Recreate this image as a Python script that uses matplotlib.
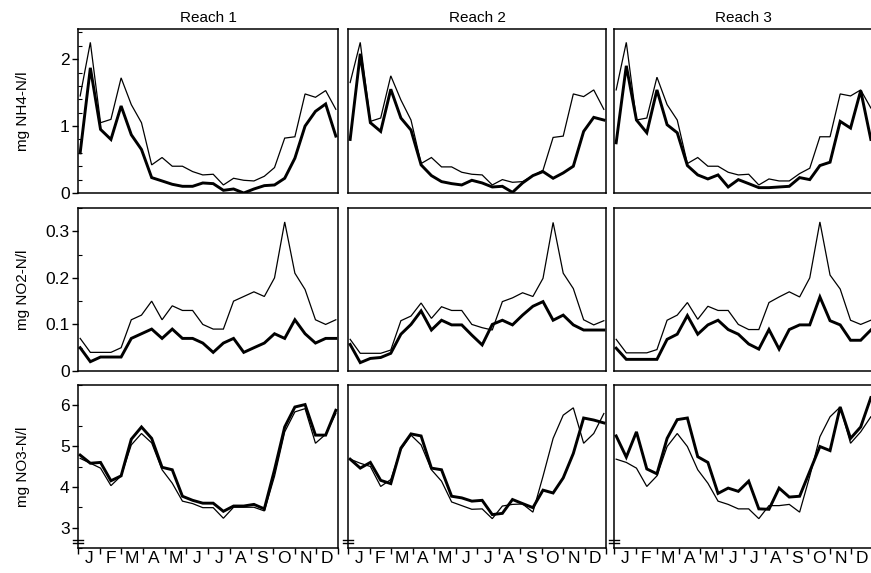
import numpy as np
import matplotlib
matplotlib.use("Agg")
import matplotlib.pyplot as plt
from matplotlib.ticker import MultipleLocator, FixedLocator, NullFormatter
import matplotlib.transforms as mtransforms

plt.rcParams['font.family'] = ['Liberation Sans', 'DejaVu Sans']

# sampling times (months since 1 Jan), biweekly
sample_month = [0.10, 0.57, 1.04, 1.52, 1.99, 2.46, 2.93, 3.40, 3.88, 4.35,
                4.82, 5.29, 5.76, 6.24, 6.71, 7.18, 7.65, 8.12, 8.60, 9.07,
                9.54, 10.01, 10.48, 10.96, 11.43, 11.90]

month_labels = ['J', 'F', 'M', 'A', 'M', 'J', 'J', 'A', 'S', 'O', 'N', 'D']
reach_titles = ['Reach 1', 'Reach 2', 'Reach 3']
row_labels = ['mg NH4-N/l', 'mg NO2-N/l', 'mg NO3-N/l']

# NH4 ---------------------------------------------------------------
nh4_thin_r1 = [1.45, 2.25, 1.05, 1.10, 1.72, 1.32, 1.05, 0.42, 0.53, 0.40, 0.40, 0.32, 0.27,
               0.28, 0.12, 0.22, 0.19, 0.18, 0.25, 0.38, 0.82, 0.84, 1.48, 1.43, 1.53, 1.25]
nh4_thick_r1 = [0.60, 1.87, 0.95, 0.80, 1.30, 0.87, 0.65, 0.23, 0.18, 0.13, 0.10, 0.10, 0.15,
                0.14, 0.04, 0.06, 0.00, 0.06, 0.11, 0.12, 0.22, 0.52, 1.00, 1.22, 1.33, 0.85]
nh4_thin_r2 = [1.65, 2.25, 1.07, 1.12, 1.75, 1.39, 1.09, 0.44, 0.53, 0.39, 0.39, 0.31, 0.28,
               0.27, 0.12, 0.20, 0.16, 0.17, 0.26, 0.34, 0.83, 0.85, 1.48, 1.44, 1.54, 1.25]
nh4_thick_r2 = [0.80, 2.08, 1.05, 0.92, 1.55, 1.12, 0.94, 0.42, 0.26, 0.17, 0.14, 0.12, 0.19,
                0.15, 0.09, 0.10, 0.01, 0.15, 0.26, 0.32, 0.22, 0.30, 0.40, 0.92, 1.13, 1.09]
nh4_thin_r3 = [1.54, 2.25, 1.09, 1.12, 1.73, 1.32, 1.09, 0.44, 0.53, 0.40, 0.40, 0.31, 0.27,
               0.28, 0.12, 0.21, 0.18, 0.18, 0.29, 0.37, 0.84, 0.84, 1.48, 1.45, 1.54, 1.27]
nh4_thick_r3 = [0.75, 1.90, 1.09, 0.90, 1.54, 1.02, 0.90, 0.41, 0.27, 0.21, 0.27, 0.09, 0.20,
                0.14, 0.08, 0.08, 0.09, 0.10, 0.23, 0.20, 0.41, 0.46, 1.07, 0.97, 1.53, 0.80]

# NO2 ---------------------------------------------------------------
no2_thin_r1 = [0.070, 0.040, 0.040, 0.040, 0.050, 0.110, 0.120, 0.150, 0.110, 0.140, 0.130, 0.130, 0.100,
               0.090, 0.090, 0.150, 0.160, 0.170, 0.160, 0.200, 0.320, 0.210, 0.175, 0.110, 0.100, 0.110]
no2_thick_r1 = [0.050, 0.020, 0.030, 0.030, 0.030, 0.070, 0.080, 0.090, 0.070, 0.090, 0.070, 0.070, 0.060,
                0.040, 0.060, 0.070, 0.040, 0.050, 0.060, 0.080, 0.070, 0.110, 0.080, 0.060, 0.070, 0.070]
no2_thin_r2 = [0.068, 0.038, 0.038, 0.038, 0.045, 0.108, 0.118, 0.146, 0.113, 0.138, 0.130, 0.130, 0.100,
               0.093, 0.088, 0.149, 0.157, 0.168, 0.160, 0.199, 0.319, 0.210, 0.177, 0.110, 0.099, 0.108]
no2_thick_r2 = [0.057, 0.018, 0.027, 0.029, 0.038, 0.079, 0.100, 0.129, 0.088, 0.109, 0.099, 0.099, 0.077,
                0.056, 0.100, 0.109, 0.099, 0.120, 0.139, 0.149, 0.109, 0.120, 0.099, 0.088, 0.088, 0.088]
no2_thin_r3 = [0.068, 0.039, 0.039, 0.039, 0.046, 0.109, 0.120, 0.147, 0.111, 0.139, 0.130, 0.130, 0.100,
               0.089, 0.089, 0.147, 0.159, 0.170, 0.159, 0.200, 0.320, 0.206, 0.176, 0.109, 0.100, 0.109]
no2_thick_r3 = [0.049, 0.025, 0.025, 0.025, 0.025, 0.068, 0.079, 0.119, 0.079, 0.099, 0.109, 0.089, 0.079,
                0.058, 0.047, 0.089, 0.047, 0.089, 0.099, 0.099, 0.159, 0.108, 0.099, 0.066, 0.066, 0.088]

# NO3 ---------------------------------------------------------------
no3_thin_r1 = [4.70, 4.58, 4.46, 4.03, 4.27, 5.03, 5.31, 5.08, 4.42, 4.09, 3.65, 3.59, 3.49,
               3.49, 3.23, 3.50, 3.50, 3.50, 3.41, 4.26, 5.35, 5.84, 5.92, 5.07, 5.29, 5.80]
no3_thick_r1 = [4.78, 4.58, 4.60, 4.15, 4.27, 5.17, 5.47, 5.19, 4.48, 4.42, 3.77, 3.67, 3.60,
                3.60, 3.40, 3.53, 3.53, 3.57, 3.46, 4.42, 5.47, 5.96, 6.02, 5.27, 5.27, 5.88]
no3_thin_r2 = [4.68, 4.58, 4.50, 4.01, 4.18, 4.92, 5.27, 5.03, 4.42, 4.14, 3.63, 3.54, 3.45,
               3.46, 3.22, 3.53, 3.57, 3.58, 3.38, 4.26, 5.19, 5.76, 5.94, 5.07, 5.31, 5.80]
no3_thick_r2 = [4.68, 4.46, 4.60, 4.16, 4.08, 4.95, 5.30, 5.25, 4.46, 4.42, 3.77, 3.73, 3.65,
                3.67, 3.32, 3.35, 3.69, 3.59, 3.49, 3.92, 3.85, 4.22, 4.82, 5.69, 5.64, 5.57]
no3_thin_r3 = [4.68, 4.60, 4.46, 4.01, 4.27, 4.99, 5.31, 4.99, 4.42, 4.09, 3.65, 3.57, 3.46,
               3.46, 3.22, 3.54, 3.54, 3.57, 3.38, 4.26, 5.23, 5.72, 5.96, 5.07, 5.35, 5.72]
no3_thick_r3 = [5.25, 4.73, 5.35, 4.44, 4.32, 5.19, 5.65, 5.69, 4.74, 4.60, 3.84, 3.97, 3.89,
                4.14, 3.46, 3.45, 3.97, 3.75, 3.77, 4.38, 4.99, 4.89, 5.96, 5.19, 5.47, 6.19]

thin_series = [[nh4_thin_r1, nh4_thin_r2, nh4_thin_r3],
               [no2_thin_r1, no2_thin_r2, no2_thin_r3],
               [no3_thin_r1, no3_thin_r2, no3_thin_r3]]
thick_series = [[nh4_thick_r1, nh4_thick_r2, nh4_thick_r3],
                [no2_thick_r1, no2_thick_r2, no2_thick_r3],
                [no3_thick_r1, no3_thick_r2, no3_thick_r3]]

row_ylim = [(0, 2.45), (0, 0.35), (2.5, 6.5)]
row_major = [[0, 1, 2], [0, 0.1, 0.2, 0.3], [3, 4, 5, 6]]
row_major_lbl = [['0', '1', '2'], ['0', '0.1', '0.2', '0.3'], ['3', '4', '5', '6']]
row_minor = [0.2, 0.05, 0.5]

W, H = 871, 573
fig = plt.figure(figsize=(W / 100, H / 100), dpi=100)

col_px = [(78, 338), (348, 606), (614, 873)]
row_px = [(29, 193), (208, 371), (385, 548)]

for r in range(3):
    for c in range(3):
        x0, x1 = col_px[c]
        yt, yb = row_px[r]
        ax = fig.add_axes([x0 / W, 1 - yb / H, (x1 - x0) / W, (yb - yt) / H])
        ax.plot(sample_month, thin_series[r][c], color='black', lw=0.9, solid_joinstyle='miter')
        ax.plot(sample_month, thick_series[r][c], color='black', lw=2.1, solid_joinstyle='miter')
        ax.set_xlim(0, 12)
        ax.set_ylim(*row_ylim[r])
        for s in ax.spines.values():
            s.set_linewidth(1.1)
        ax.yaxis.set_major_locator(FixedLocator(row_major[r]))
        ax.yaxis.set_minor_locator(MultipleLocator(row_minor[r]))
        ax.tick_params(axis='y', which='major', direction='out', length=4, width=1,
                       labelsize=12.5, pad=2)
        ax.tick_params(axis='y', which='minor', direction='in', length=3, width=0.8)
        ax.tick_params(axis='y', right=False)
        if c == 0:
            ax.set_yticklabels(row_major_lbl[r])
            fig.text(0.026, 1 - (yt + yb) / 2 / H, row_labels[r], rotation=90,
                     ha='center', va='center', fontsize=11)
        else:
            ax.tick_params(axis='y', which='both', labelleft=False, length=0)
        # x axis
        ax.xaxis.set_major_locator(FixedLocator(np.arange(0, 13)))
        ax.xaxis.set_minor_locator(FixedLocator(np.arange(12) + 0.5))
        if r == 2:
            ax.xaxis.set_major_formatter(NullFormatter())
            ax.set_xticks(np.arange(12) + 0.5, labels=month_labels, minor=True)
            ax.tick_params(axis='x', which='major', direction='out', length=4, width=1)
            ax.tick_params(axis='x', which='minor', length=0, labelsize=12.5, pad=2)
            # axis break marks on left spine
            trans = mtransforms.blended_transform_factory(ax.transAxes, ax.transData)
            for yy in (2.62, 2.70):
                ax.plot([-0.018, 0.018], [yy, yy], color='black', lw=1.0,
                        transform=trans, clip_on=False)
        else:
            ax.tick_params(axis='x', which='both', labelbottom=False, length=0)
        if r == 0:
            ax.set_title(reach_titles[c], fontsize=11, pad=5)

fig.savefig('out.png', dpi=100)
